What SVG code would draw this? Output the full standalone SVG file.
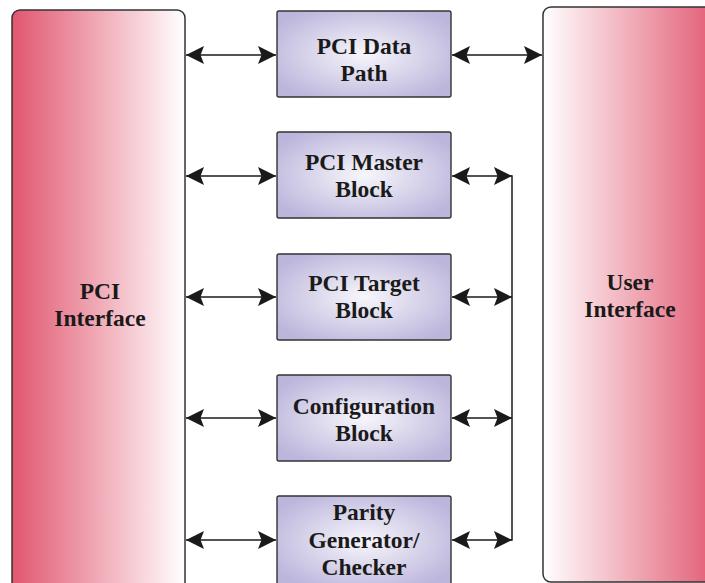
<svg xmlns="http://www.w3.org/2000/svg" width="705" height="583" viewBox="0 0 705 583">
<style>
.panel{stroke:#333;stroke-width:1.5}
.blk{fill:url(#blkGrad);stroke:#333;stroke-width:1.4}
.t{font-family:"Liberation Serif","Times New Roman",serif;font-weight:bold;font-size:23.5px;fill:#1a1a1a;text-anchor:middle}
.c{fill:none;stroke:#1a1a1a;stroke-width:1.5}
</style>
<defs>
<linearGradient id="leftGrad" x1="0" y1="0" x2="1" y2="0">
<stop offset="0" stop-color="#e1566f"/>
<stop offset="1" stop-color="#ffffff"/>
</linearGradient>
<linearGradient id="rightGrad" x1="0" y1="0" x2="1" y2="0">
<stop offset="0" stop-color="#ffffff"/>
<stop offset="1" stop-color="#e1566f"/>
</linearGradient>
<radialGradient id="blkGrad" cx="0.5" cy="0.5" r="0.6">
<stop offset="0" stop-color="#f7f6fb"/>
<stop offset="1" stop-color="#bcb6dc"/>
</radialGradient>
<marker id="ah" markerUnits="userSpaceOnUse" markerWidth="19" markerHeight="19" refX="18" refY="9" orient="auto-start-reverse" viewBox="0 0 19 18">
<path d="M0,0 L18,9 L0,18 L3.5,9 Z" fill="#1a1a1a"/>
</marker>
</defs>
<g id="pci-interface">
<rect class="panel" x="12" y="10" width="173" height="582" rx="8" fill="url(#leftGrad)"/>
<text class="t" x="100" y="299">PCI</text>
<text class="t" x="100" y="326">Interface</text>
</g>
<g id="user-interface">
<rect class="panel" x="543" y="7" width="180" height="575" rx="8" fill="url(#rightGrad)"/>
<text class="t" x="630" y="290">User</text>
<text class="t" x="630" y="317">Interface</text>
</g>
<g id="pci-data-path">
<rect class="blk" x="277" y="11" width="174" height="86" rx="2"/>
<text class="t" x="364" y="54">PCI Data</text>
<text class="t" x="364" y="81">Path</text>
</g>
<g id="pci-master-block">
<rect class="blk" x="277" y="132" width="174" height="86" rx="2"/>
<text class="t" x="364" y="170">PCI Master</text>
<text class="t" x="364" y="197">Block</text>
</g>
<g id="pci-target-block">
<rect class="blk" x="277" y="254" width="174" height="86" rx="2"/>
<text class="t" x="364" y="291">PCI Target</text>
<text class="t" x="364" y="318">Block</text>
</g>
<g id="configuration-block">
<rect class="blk" x="277" y="375" width="174" height="86" rx="2"/>
<text class="t" x="364" y="414">Configuration</text>
<text class="t" x="364" y="441">Block</text>
</g>
<g id="parity-generator-checker">
<rect class="blk" x="277" y="496" width="174" height="90" rx="2"/>
<text class="t" x="364" y="520">Parity</text>
<text class="t" x="364" y="548">Generator/</text>
<text class="t" x="364" y="575">Checker</text>
</g>
<g id="connectors">
<line class="c" x1="186" y1="55" x2="276" y2="55" marker-start="url(#ah)" marker-end="url(#ah)"/>
<line class="c" x1="452" y1="55" x2="542" y2="55" marker-start="url(#ah)" marker-end="url(#ah)"/>
<line class="c" x1="186" y1="176" x2="276" y2="176" marker-start="url(#ah)" marker-end="url(#ah)"/>
<line class="c" x1="186" y1="297" x2="276" y2="297" marker-start="url(#ah)" marker-end="url(#ah)"/>
<line class="c" x1="186" y1="418" x2="276" y2="418" marker-start="url(#ah)" marker-end="url(#ah)"/>
<line class="c" x1="186" y1="540" x2="276" y2="540" marker-start="url(#ah)" marker-end="url(#ah)"/>
<line class="c" x1="452" y1="176" x2="512" y2="176" marker-start="url(#ah)" marker-end="url(#ah)"/>
<line class="c" x1="452" y1="297" x2="512" y2="297" marker-start="url(#ah)" marker-end="url(#ah)"/>
<line class="c" x1="452" y1="418" x2="512" y2="418" marker-start="url(#ah)" marker-end="url(#ah)"/>
<line class="c" x1="452" y1="540" x2="512" y2="540" marker-start="url(#ah)" marker-end="url(#ah)"/>
<line class="c" x1="512" y1="175.3" x2="512" y2="540.7"/>
</g>
</svg>
